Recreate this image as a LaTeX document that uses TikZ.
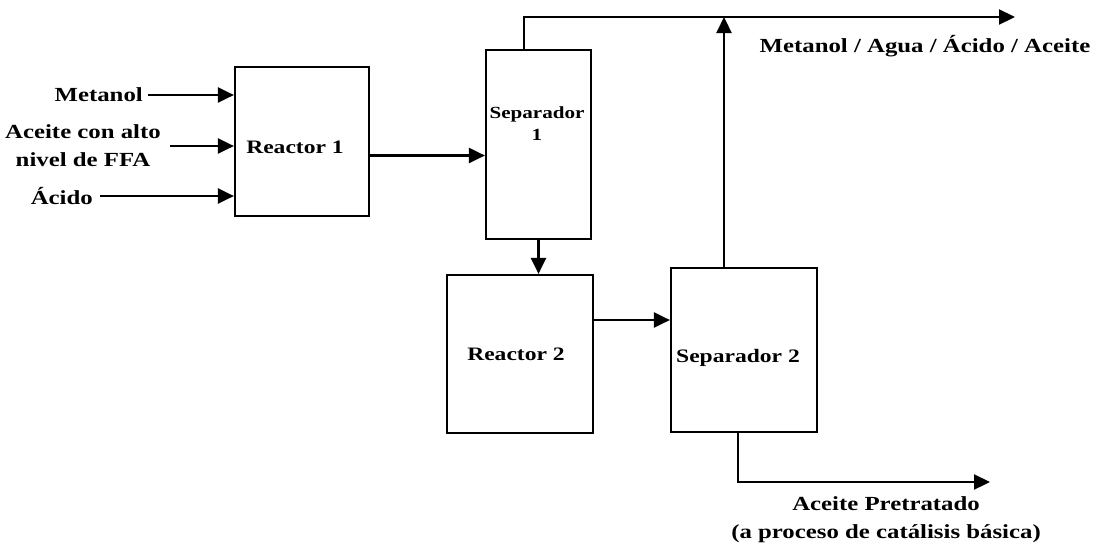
\documentclass[tikz,border=0pt]{standalone}
\usepackage{fontspec}
\setmainfont{Liberation Serif}[FakeStretch=1.24]
\usetikzlibrary{arrows.meta,calc}
\begin{document}
\begin{tikzpicture}[x=1pt,y=-1pt,
  box/.style={draw,line width=2.2pt,inner sep=0pt},
  lbl/.style={font=\fontsize{20}{28}\selectfont\bfseries,inner sep=0pt,align=center},
  blbl/.style={font=\fontsize{19}{24}\selectfont\bfseries,inner sep=0pt,align=center},
  sblbl/.style={font=\fontsize{17}{22}\selectfont\bfseries,inner sep=0pt,align=center},
  conn/.style={line width=2.2pt},
  arr/.style={conn,-{Triangle[length=16pt,width=15pt]}}]
\useasboundingbox (0,0) rectangle (1102,547);
% boxes
\node[box,minimum width=134pt,minimum height=149pt] (r1) at (302,141.5) {};
\node[box,minimum width=105pt,minimum height=189pt] (s1) at (538.5,144.5) {};
\node[box,minimum width=146pt,minimum height=158pt] (r2) at (520,354) {};
\node[box,minimum width=146pt,minimum height=164pt] (s2) at (744,350) {};
% box texts
\node[blbl] (r1t) at (295,147) {Reactor 1};
\node[sblbl] (s1t) at (537,124) {Separador\\1};
\node[blbl] (r2t) at (516,354) {Reactor 2};
\node[blbl] (s2t) at (738,358) {Separador 2};
% input labels
\node[lbl,anchor=east] (met) at (143,95) {Metanol};
\node[lbl,anchor=east] (ace) at (161,146) {Aceite con alto\\nivel de FFA};
\node[lbl,anchor=east] (aci) at (93,196) {Ácido};
% output labels
\node[lbl] (o1t) at (925,46) {Metanol / Agua / Ácido / Aceite};
\node[lbl] (o2t) at (886,520) {Aceite Pretratado\\(a proceso de catálisis básica)};
\coordinate (out1) at (1015,17);
\coordinate (out2) at (990,482);
% connector start points
\coordinate (a1) at ($(met.east)+(5,0)$);
\coordinate (a2) at ($(ace.east)+(9,0)$);
\coordinate (a3) at ($(aci.east)+(7,0)$);
\coordinate (b1) at ($(r1.east)+(0,14)$);
\coordinate (b2) at ($(s1.north)+(-14.5,0)$);
\coordinate (b3) at ($(r2.east)+(0,-34)$);
\coordinate (b4) at ($(s2.south)+(-6,0)$);
\coordinate (b5) at ($(s2.north)+(-20,0)$);
% connectors
\draw[arr] (a1) -- (a1 -| r1.west);
\draw[arr] (a2) -- (a2 -| r1.west);
\draw[arr] (a3) -- (a3 -| r1.west);
\draw[arr] (b1) -- (b1 -| s1.west);
\draw[arr] (b2) |- (out1);
\draw[arr] (b5) -- (b5 |- out1);
\draw[arr] (s1.south) -- (s1.south |- r2.north);
\draw[arr] (b3) -- (b3 -| s2.west);
\draw[arr] (b4) |- (out2);
\end{tikzpicture}
\end{document}
